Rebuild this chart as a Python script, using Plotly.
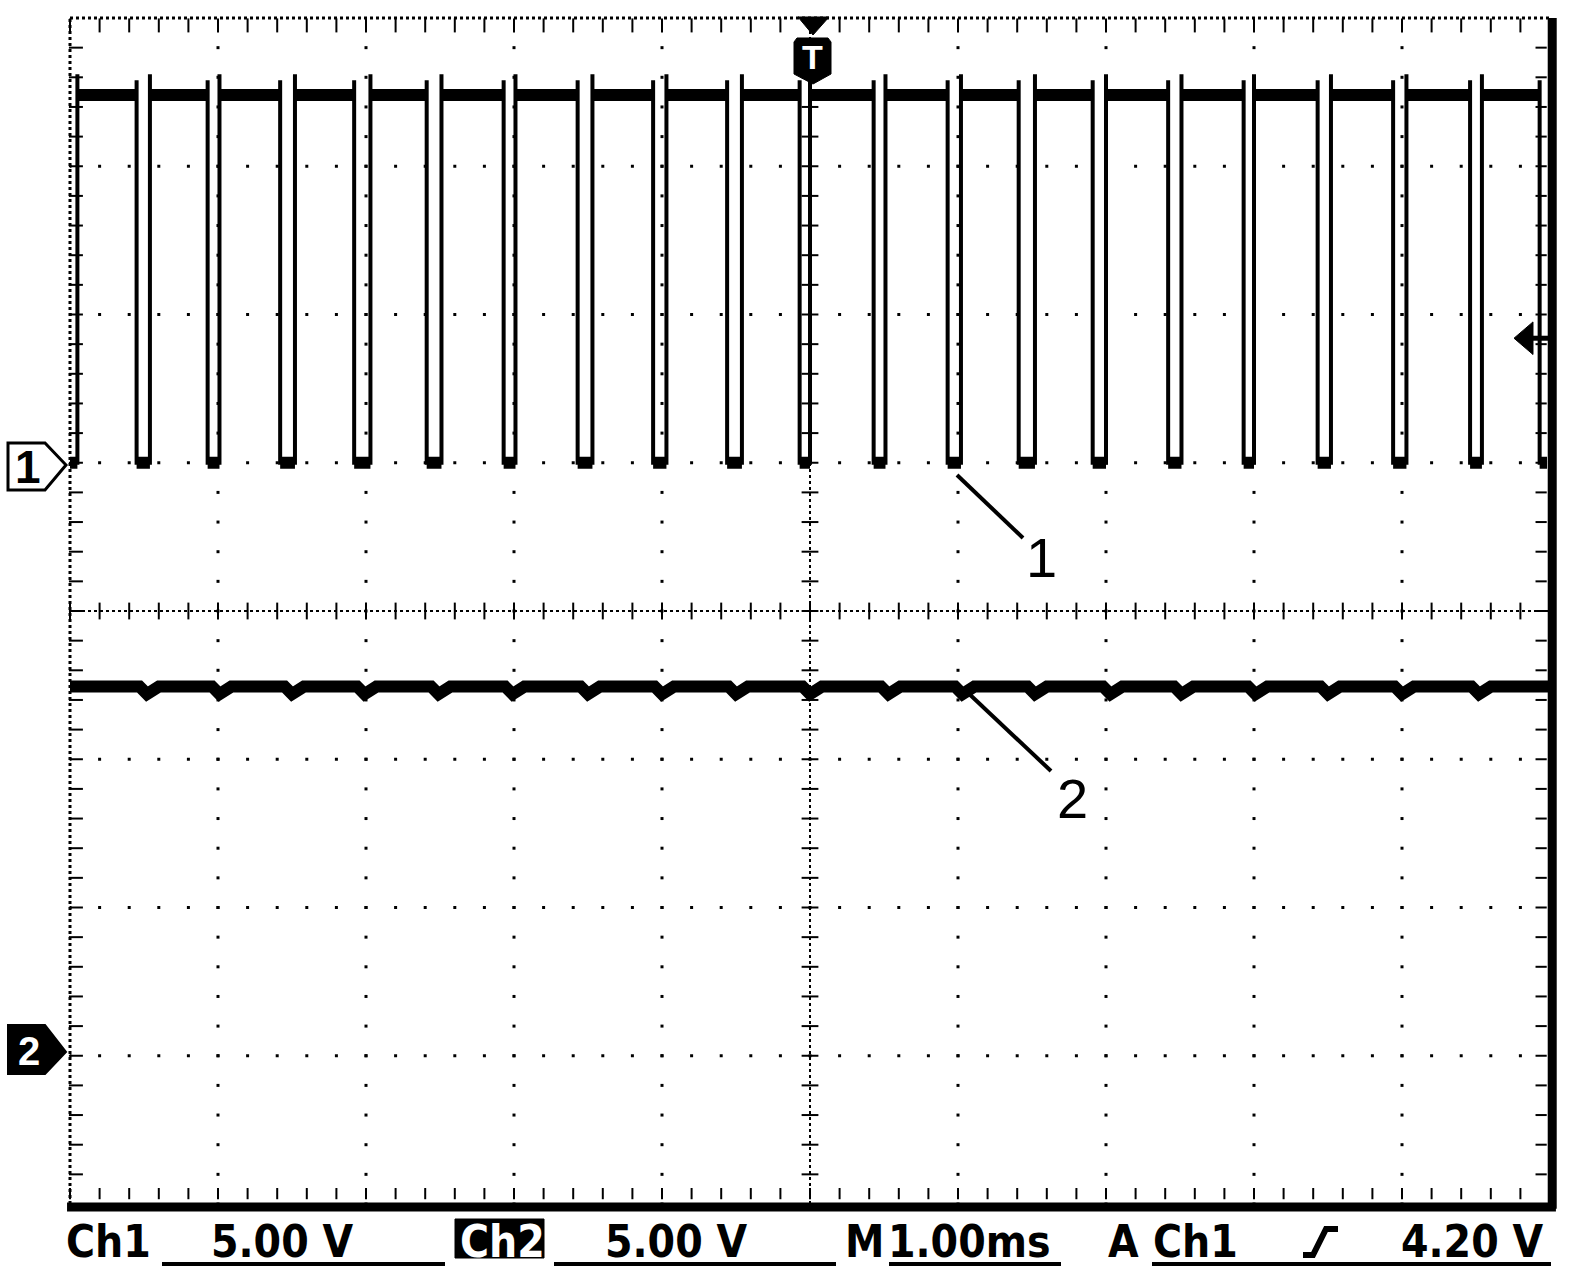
import numpy as np
import plotly.graph_objects as go

# ---------------- data ----------------
volts_per_div_ch1 = 5.0
volts_per_div_ch2 = 5.0
time_per_div_ms = 1.0
trigger_level_v = 4.2
ch1_offset_div = 1.0      # ch1 ground marker, divisions above centre
ch2_offset_div = -3.0     # ch2 ground marker, divisions above centre

ch1_rise_ms = [-4.95, -4.46, -3.99, -3.48, -2.97, -2.49, -1.99, -1.47, -0.97, -0.46,
               0.00, 0.51, 1.02, 1.52, 2.00, 2.51, 3.00, 3.52, 4.03, 4.54]
ch1_fall_ms = [-4.55, -4.07, -3.58, -3.08, -2.59, -2.07, -1.57, -1.06, -0.56, -0.07,
               0.43, 0.93, 1.41, 1.91, 2.42, 2.93, 3.43, 3.94, 4.46, 4.93]
ch1_high_v = 12.4
ch1_low_v = 0.0
ch1_rise_peak_v = 13.1
ch1_fall_peak_v = 12.9

ch2_dip_ms = [-4.48, -3.99, -3.50, -3.01, -2.51, -2.01, -1.50, -1.00, -0.50, 0.00,
              0.53, 1.03, 1.52, 2.03, 2.51, 3.01, 3.50, 4.00, 4.52]
ch2_level_v = 12.45
ch2_dip_v = 12.2

# ---------------- geometry helpers (pixel -> paper) ----------------
L, R, T, B = 70, 1550, 18, 1204
def PX(x):
    return (x - L) / (R - L)
def PY(y):
    return (B - y) / (B - T)

BLACK = "black"
FONT = "Liberation Sans Narrow, DejaVu Sans Condensed, Arial Narrow, Liberation Sans, sans-serif"
SANS = "Liberation Sans, Arial, sans-serif"

fig = go.Figure()

def label(x, y, text, size, color=BLACK, bold=False, family=SANS, xanchor="center"):
    fig.add_annotation(x=x, y=y, xref="paper", yref="paper", text=text, showarrow=False,
                       xanchor=xanchor, yanchor="middle",
                       font=dict(family=family, size=size, color=color, weight=700 if bold else 400))

# ---------------- graticule ----------------
x_lo, x_hi = -5 * time_per_div_ms, 5 * time_per_div_ms
gx, gy = [], []
for xi in [-4, -3, -2, -1, 1, 2, 3, 4]:
    for yv in np.arange(-4, 4.001, 0.2):
        gx.append(xi); gy.append(yv)
for yi in [-3, -2, -1, 1, 2, 3]:
    for xv in np.arange(-5, 5.001, 0.2):
        gx.append(xv); gy.append(yi)
fig.add_trace(go.Scatter(x=gx, y=gy, yaxis="y3", mode="markers",
                         marker=dict(symbol="square", size=3, color=BLACK), hoverinfo="skip"))

# dense centre lines + borders (dotted)
for (x0, y0, x1_, y1_) in [(0, -4, 0, 4), (-5, 0, 5, 0)]:
    fig.add_shape(type="line", xref="x", yref="y3", x0=x0, y0=y0, x1=x1_, y1=y1_,
                  line=dict(color=BLACK, width=2, dash="dot"), layer="below")
fig.add_shape(type="line", xref="paper", yref="paper", x0=0, y0=1, x1=1, y1=1,
              line=dict(color=BLACK, width=3, dash="dot"), layer="below")
fig.add_shape(type="line", xref="paper", yref="paper", x0=0, y0=0, x1=0, y1=1,
              line=dict(color=BLACK, width=3, dash="dot"), layer="below")

tv = np.arange(-4, 4.001, 0.2)
th = np.arange(-5, 5.001, 0.2)
def ticks(x, y, sym, size):
    fig.add_trace(go.Scatter(x=x, y=y, yaxis="y3", mode="markers", cliponaxis=False,
                             marker=dict(symbol=sym, size=size, line=dict(width=2, color=BLACK)),
                             hoverinfo="skip"))
ticks(th, np.zeros_like(th), "line-ns", 12)            # centre horizontal
ticks(np.zeros_like(tv), tv, "line-ew", 12)            # centre vertical
ticks(th, np.full_like(th, 4 - 0.05), "line-ns", 10)   # top border
ticks(th, np.full_like(th, -4 + 0.07), "line-ns", 8)   # bottom border
ticks(np.full_like(tv, -5 + 0.04), tv, "line-ew", 10)  # left border
ticks(np.full_like(tv, 5 - 0.06), tv, "line-ew", 8)    # right border

# solid right and bottom border
fig.add_shape(type="line", xref="paper", yref="paper", x0=1.0015, y0=-0.004, x1=1.0015, y1=1,
              line=dict(color=BLACK, width=9))
fig.add_shape(type="line", xref="paper", yref="paper", x0=-0.002, y0=-0.0025, x1=1.004, y1=-0.0025,
              line=dict(color=BLACK, width=9))

# ---------------- channel 1 ----------------
x1, y1 = [x_lo], [ch1_low_v]
for r, f in zip(ch1_rise_ms, ch1_fall_ms):
    x1 += [r, r, r, f, f, f]
    y1 += [ch1_low_v, ch1_rise_peak_v, ch1_high_v, ch1_high_v, ch1_fall_peak_v, ch1_low_v]
x1.append(x_hi - 0.02); y1.append(ch1_low_v)
fig.add_trace(go.Scatter(x=x1, y=y1, yaxis="y", mode="lines",
                         line=dict(color=BLACK, width=4), hoverinfo="skip"))

bx, by = [], []
starts = [x_lo] + list(ch1_fall_ms)
ends = list(ch1_rise_ms) + [x_hi - 0.02]
for s, e in zip(starts, ends):
    bx += [s, e, None]; by += [ch1_low_v, ch1_low_v, None]
for r, f in zip(ch1_rise_ms, ch1_fall_ms):
    bx += [r, f, None]; by += [ch1_high_v, ch1_high_v, None]
fig.add_trace(go.Scatter(x=bx, y=by, yaxis="y", mode="lines",
                         line=dict(color=BLACK, width=12), hoverinfo="skip"))

# ---------------- channel 2 ----------------
x2, y2 = [x_lo], [ch2_level_v]
for d in ch2_dip_ms:
    x2 += [d - 0.05, d, d + 0.08]
    y2 += [ch2_level_v, ch2_dip_v, ch2_level_v]
x2.append(x_hi); y2.append(ch2_level_v)
fig.add_trace(go.Scatter(x=x2, y=y2, yaxis="y2", mode="lines",
                         line=dict(color=BLACK, width=12), hoverinfo="skip"))

# ---------------- markers ----------------
def path_px(pts, close=True):
    s = "M " + " L ".join(f"{PX(a):.5f},{PY(b):.5f}" for a, b in pts)
    return s + (" Z" if close else "")

# channel 1 ground marker (outlined)
fig.add_shape(type="path", xref="paper", yref="paper",
              path=path_px([(8, 443), (45, 443), (66, 465), (45, 490), (8, 490)]),
              line=dict(color=BLACK, width=3), fillcolor="white")
label(PX(28), PY(467), "1", 46, bold=True)
# channel 2 ground marker (filled)
fig.add_shape(type="path", xref="paper", yref="paper",
              path=path_px([(8, 1025), (45, 1025), (66, 1052), (45, 1074), (8, 1074)]),
              line=dict(color=BLACK, width=2), fillcolor=BLACK)
label(PX(29), PY(1051), "2", 40, color="white", bold=True)

# trigger position marker T
fig.add_shape(type="path", xref="paper", yref="paper",
              path=path_px([(798, 17), (829, 17), (813, 35)]),
              line=dict(color=BLACK, width=1), fillcolor=BLACK)
fig.add_shape(type="path", xref="paper", yref="paper",
              path=path_px([(797, 38), (828, 38), (831, 42), (831, 74), (813, 84), (794, 74), (794, 42)]),
              line=dict(color=BLACK, width=1), fillcolor=BLACK)
label(PX(812.5), PY(57), "T", 34, color="white", bold=True)

# trigger level arrow (right side, at ch1 trigger level)
ah = 0.55  # half height of arrow head in volts
fig.add_shape(type="path", xref="paper", yref="y",
              path=(f"M {PX(1514):.5f},{trigger_level_v:.3f} L {PX(1533):.5f},{trigger_level_v + ah:.3f} "
                    f"L {PX(1533):.5f},{trigger_level_v - ah:.3f} Z"),
              line=dict(color=BLACK, width=1), fillcolor=BLACK)
fig.add_shape(type="line", xref="paper", yref="y", x0=PX(1530), x1=PX(1548),
              y0=trigger_level_v, y1=trigger_level_v, line=dict(color=BLACK, width=5))

# callouts
fig.add_shape(type="line", xref="paper", yref="paper", x0=PX(957), y0=PY(475), x1=PX(1023), y1=PY(538),
              line=dict(color=BLACK, width=4))
label(PX(1041), PY(557), "1", 56)
fig.add_shape(type="line", xref="paper", yref="paper", x0=PX(965), y0=PY(690), x1=PX(1051), y1=PY(771),
              line=dict(color=BLACK, width=4))
label(PX(1072), PY(798), "2", 56)

# ---------------- status line ----------------
status_y = PY(1241)
def status(text, x_left, color=BLACK):
    label(PX(x_left), status_y, text, 44, color=color, bold=True, family=FONT, xanchor="left")

status("Ch1", 64)
status(f"{volts_per_div_ch1:.2f} V", 209)
fig.add_shape(type="rect", xref="paper", yref="paper", x0=PX(455), x1=PX(544), y0=PY(1219), y1=PY(1258),
              line=dict(color=BLACK, width=1), fillcolor=BLACK)
status("Ch2", 458, color="white")
status(f"{volts_per_div_ch2:.2f} V", 603)
status("M", 843)
status(f"{time_per_div_ms:.2f}ms", 886)
status("A", 1106)
status("Ch1", 1151)
status(f"{trigger_level_v:.2f} V", 1399)

for (a, b) in [(162, 445), (554, 836), (889, 1061), (1152, 1551)]:
    fig.add_shape(type="line", xref="paper", yref="paper", x0=PX(a), x1=PX(b), y0=PY(1264), y1=PY(1264),
                  line=dict(color=BLACK, width=4))
# rising-edge trigger slope symbol
fig.add_shape(type="path", xref="paper", yref="paper",
              path=path_px([(1303, 1255), (1313, 1255), (1326, 1229), (1338, 1229)], close=False),
              line=dict(color=BLACK, width=6))

# ---------------- layout ----------------
fig.update_layout(
    width=1584, height=1280,
    margin=dict(l=L, r=1584 - R, t=T, b=1280 - B),
    paper_bgcolor="white", plot_bgcolor="white", showlegend=False,
    xaxis=dict(range=[x_lo, x_hi], visible=False, fixedrange=True),
    yaxis=dict(range=[(-4 - ch1_offset_div) * volts_per_div_ch1, (4 - ch1_offset_div) * volts_per_div_ch1],
               visible=False, fixedrange=True),
    yaxis2=dict(range=[(-4 - ch2_offset_div) * volts_per_div_ch2, (4 - ch2_offset_div) * volts_per_div_ch2],
                overlaying="y", visible=False, fixedrange=True),
    yaxis3=dict(range=[-4, 4], overlaying="y", visible=False, fixedrange=True),
)

fig.write_html("out.html", post_script="document.body.style.margin='0';",
               config={"displayModeBar": False})
